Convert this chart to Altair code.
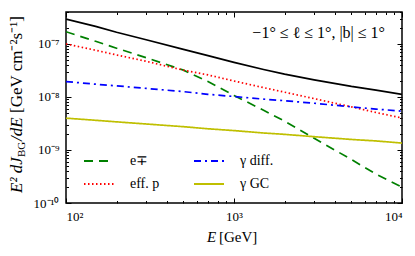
import altair as alt
import pandas as pd

# ---- data ----
energy = [100, 150, 200, 300, 500, 700, 1000, 1500, 2000, 3000, 5000, 7000, 10000]
e_pm = [1.70e-7, 1.12e-7, 8.3e-8, 5.5e-8, 3.2e-8, 1.95e-8, 1.07e-8, 5.6e-9, 3.5e-9, 1.66e-9, 6.6e-10, 3.5e-10, 2.0e-10]
eff_p = [1.0e-7, 7.6e-8, 6.2e-8, 4.7e-8, 3.2e-8, 2.6e-8, 2.0e-8, 1.5e-8, 1.23e-8, 9.3e-9, 6.5e-9, 5.1e-9, 4.0e-9]
gamma_diff = [1.95e-8, 1.74e-8, 1.62e-8, 1.45e-8, 1.26e-8, 1.12e-8, 1.02e-8, 9.1e-9, 8.5e-9, 7.6e-9, 6.5e-9, 5.9e-9, 5.4e-9]
gamma_gc = [3.98e-9, 3.63e-9, 3.39e-9, 3.09e-9, 2.75e-9, 2.51e-9, 2.32e-9, 2.09e-9, 1.97e-9, 1.78e-9, 1.58e-9, 1.48e-9, 1.35e-9]
total = [2.95e-7, 2.14e-7, 1.66e-7, 1.20e-7, 7.9e-8, 6.0e-8, 4.5e-8, 3.3e-8, 2.7e-8, 2.1e-8, 1.58e-8, 1.35e-8, 1.12e-8]

# legend fills column by column: (e∓, eff. p) then (γ diff., γ GC)
series_names = ["e∓", "eff. p", "γ diff.", "γ GC"]
series_colors = ["#008000", "#ff0000", "#0000ff", "#bfbf00"]
series_dashes = [[9, 6], [1.5, 2.5], [7, 4, 2, 4], [1, 0]]

x_ticks = [100, 200, 300, 400, 500, 600, 700, 800, 900,
           1000, 2000, 3000, 4000, 5000, 6000, 7000, 8000, 9000, 10000]
y_exponents = [-10, -9, -8, -7]
y_ticks = [m * 10.0 ** e for e in y_exponents for m in range(1, 10) if m * 10.0 ** e <= 4e-7]

x_domain = [100, 10000]
y_domain = [1e-10, 4e-7]

FONT = "Liberation Serif"

rows = []
for name, vals in zip(series_names, [e_pm, eff_p, gamma_diff, gamma_gc]):
    for e, v in zip(energy, vals):
        rows.append({"E": e, "flux": v, "series": name})
comp = pd.DataFrame(rows)
tot = pd.DataFrame({"E": energy, "flux": total})

x_major = "(datum.value == 100 || datum.value == 1000 || datum.value == 10000)"
y_major = "(abs(log(datum.value)/LN10 - round(log(datum.value)/LN10)) < 0.001)"
y_exp = "round(log(datum.value)/LN10)"

x_label_expr = ("datum.value == 100 ? '10²' : datum.value == 1000 ? '10³' : "
                "datum.value == 10000 ? '10⁴' : ''")
y_label_expr = (f"{y_major} ? ({y_exp} == -10 ? '10⁻¹⁰' : {y_exp} == -9 ? '10⁻⁹' : "
                f"{y_exp} == -8 ? '10⁻⁸' : {y_exp} == -7 ? '10⁻⁷' : '') : ''")

x_tick_size = {"expr": f"{x_major} ? -5 : -2.5"}
y_tick_size = {"expr": f"{y_major} ? -5 : -2.5"}

common_axis = dict(grid=False, domain=False, title=None, tickColor="black", tickWidth=1,
                   labelFont=FONT, labelFontSize=13, labelColor="black")

x_scale = alt.Scale(type="log", domain=x_domain, nice=False)
y_scale = alt.Scale(type="log", domain=y_domain, nice=False)

legend = alt.Legend(orient="none", legendX=17, legendY=133, columns=2, title=None,
                    symbolType="stroke", symbolSize=900, symbolStrokeWidth=1.8,
                    labelFont=FONT, labelFontSize=14, labelColor="black", labelOffset=15,
                    columnPadding=30, rowPadding=-10, padding=0)

components = alt.Chart(comp).mark_line(strokeWidth=1.7, clip=True).encode(
    x=alt.X("E:Q", scale=x_scale,
            axis=alt.Axis(orient="bottom", values=x_ticks, labelExpr=x_label_expr,
                          tickSize=x_tick_size, labelPadding=12, **common_axis)),
    y=alt.Y("flux:Q", scale=y_scale,
            axis=alt.Axis(orient="left", values=y_ticks, labelExpr=y_label_expr,
                          tickSize=y_tick_size, labelPadding=12, **common_axis)),
    color=alt.Color("series:N", scale=alt.Scale(domain=series_names, range=series_colors),
                    legend=legend),
    strokeDash=alt.StrokeDash("series:N", scale=alt.Scale(domain=series_names, range=series_dashes),
                              legend=legend),
)

total_line = alt.Chart(tot).mark_line(strokeWidth=1.7, color="black", clip=True).encode(
    x=alt.X("E:Q", scale=x_scale,
            axis=alt.Axis(orient="top", values=x_ticks, labels=False,
                          tickSize=x_tick_size, **common_axis)),
    y=alt.Y("flux:Q", scale=y_scale,
            axis=alt.Axis(orient="right", values=y_ticks, labels=False,
                          tickSize=y_tick_size, **common_axis)),
)


def label(text, x, y, size=14, style="normal", angle=0, align="left", baseline="middle"):
    return alt.Chart(pd.DataFrame({"t": [text]})).mark_text(
        font=FONT, fontSize=size, fontStyle=style, angle=angle, align=align,
        baseline=baseline, color="black"
    ).encode(x=alt.value(x), y=alt.value(y), text="t:N")


texts = [
    label("−1° ≤ ℓ ≤ 1°,  |b| ≤ 1°", 319, 21, size=16, align="right"),
    label("E", 141, 225, size=15, style="italic"),
    label("[GeV]", 153, 225, size=15),
    label("E² dJ", -49, 181, size=17, style="italic", angle=270),
    label("BG", -44, 145, size=11, angle=270),
    label("/dE", -49, 129, size=17, style="italic", angle=270),
    label("[GeV cm⁻²s⁻¹]", -49, 101, size=17, angle=270),
]

chart = alt.layer(components, total_line, *texts).resolve_axis(
    x="independent", y="independent"
).properties(
    width=336, height=191,
    autosize=alt.AutoSizeParams(type="none"),
    padding={"left": 58, "top": 4, "right": 5, "bottom": 45},
).configure_view(stroke="black", strokeWidth=1.5)

chart.save("out.html", embed_options={"renderer": "svg", "actions": False})
